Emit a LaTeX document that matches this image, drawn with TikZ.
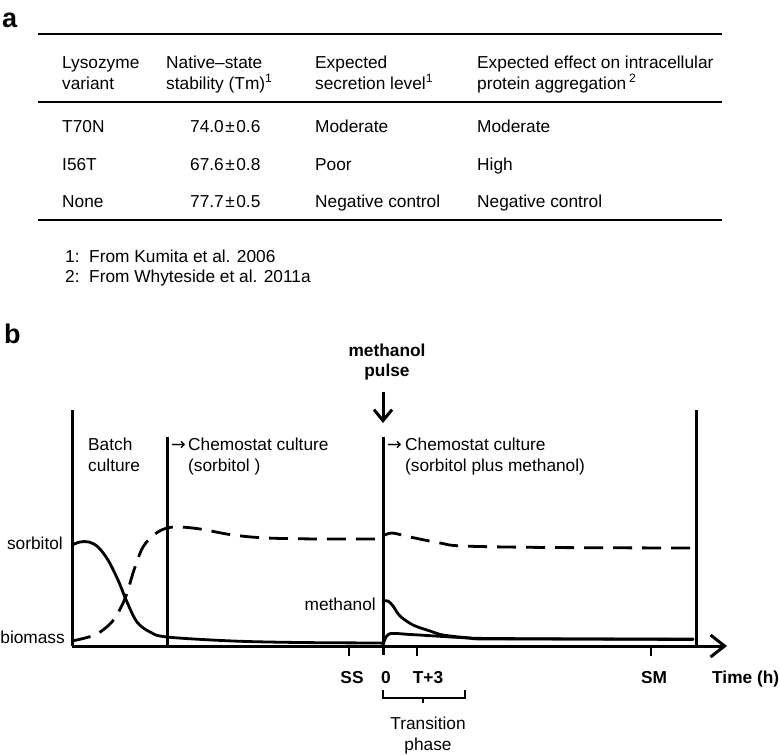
\documentclass[tikz,border=0pt]{standalone}
\usepackage{fontspec}
\setmainfont{Liberation Sans}
\newfontfamily\arrowfont{DejaVu Sans}
\usetikzlibrary{arrows.meta}

\tikzset{
  txt/.style={font=\fontsize{17.3}{21}\selectfont, inner sep=0pt},
  cell/.style={txt, anchor=base west, align=left},
  boldtxt/.style={txt, font=\fontsize{17.3}{20}\selectfont\bfseries},
  panel/.style={inner sep=0pt, anchor=base west, font=\fontsize{27}{27}\selectfont\bfseries},
  arrowtxt/.style={inner sep=0pt, anchor=base west, font=\fontsize{17.5}{17.5}\arrowfont},
  tablerule/.style={line width=2pt},
  axisline/.style={line width=3pt},
  curve/.style={line width=2.8pt, line join=round, line cap=round},
  dashcurve/.style={curve, line cap=butt, dash pattern=on 19pt off 10pt},
}

\begin{document}
\begin{tikzpicture}[x=1pt, y=-1pt]
  \useasboundingbox (0,0) rectangle (780,755);

  % panel a: the table (multi-line cells sit on the baseline of their last line)
  \node[panel] (pa) at (2,27) {a};
  \draw[tablerule] (38,34) -- (722,34);
  \draw[tablerule] (38,102) -- (722,102);
  \draw[tablerule] (38,220) -- (722,220);

  \node[cell] (h1) at (62,89) {Lysozyme\\variant};
  \node[cell] (h2) at (166,89) {Native–state\\stability (Tm)\textsuperscript{1}};
  \node[cell] (h3) at (315,89) {Expected\\secretion level\textsuperscript{1}};
  \node[cell] (h4) at (477,89) {Expected effect on intracellular\\protein aggregation\,\textsuperscript{2}};

  \foreach \y/\var/\sec/\agg [count=\i] in {132/T70N/Moderate/Moderate,
                                            170/I56T/Poor/High,
                                            207/None/Negative control/Negative control} {
    \node[cell] (var\i) at (62,\y) {\var};
    \node[cell] (sec\i) at (315,\y) {\sec};
    \node[cell] (agg\i) at (477,\y) {\agg};
  }
  \node[cell] (tm1) at (190,132) {74.0\kern1.5pt±\kern1.5pt0.6};
  \node[cell] (tm2) at (190,170) {67.6\kern1.5pt±\kern1.5pt0.8};
  \node[cell] (tm3) at (190,207) {77.7\kern1.5pt±\kern1.5pt0.5};

  \node[cell] (fn1) at (65,262) {1:\ \ From Kumita et al. 2006};
  \node[cell] (fn2) at (65,282) {2:\ \ From Whyteside et al. 2011a};

  % panel b: the culture scheme
  \node[panel] (pb) at (4,343) {b};

  \coordinate (O) at (72,646);
  \coordinate (xend) at (727,646);
  \draw[axisline] (72,410) -- (O);
  \draw[axisline, -{Straight Barb[length=14pt, width=22pt]}] (O) -- (xend);
  \draw[axisline] (167,437) -- (167,646);
  \draw[axisline] (383,437) -- (383,655);
  \draw[axisline] (696,410) -- (696,646);
  \foreach \x in {349,417,651}
    \draw[line width=2.5pt] (\x,646) -- (\x,656);

  \node[boldtxt, align=center, anchor=base] (pulse) at (387,376) {methanol\\pulse};
  \coordinate (pulsetip) at (383,423);
  \draw[axisline, -{Straight Barb[length=11pt, width=18pt]}] (383,392) -- (pulsetip);

  \node[cell] (batch) at (88,471) {Batch\\culture};
  \node[arrowtxt] (arrA) at (171,450) {→};
  \node[cell] (chemA) at (188,471) {Chemostat culture\\(sorbitol )};
  \node[arrowtxt] (arrB) at (387,450) {→};
  \node[cell] (chemB) at (405,471) {Chemostat culture\\(sorbitol plus methanol)};

  \node[txt, anchor=base east] (sorb) at (63,549) {sorbitol};
  \node[txt, anchor=base east] (biom) at (65,643) {biomass};
  \node[txt, anchor=base east] (meth) at (376,610) {methanol};

  % sorbitol
  \draw[curve] plot[smooth, tension=0.55] coordinates {(72,545) (80,542) (89,542) (98,547)
    (108,560) (118,580) (127,602) (137,622) (150,632) (167,637) (233,641) (300,642.5) (383,643)};
  % biomass
  \draw[dashcurve] plot[smooth, tension=0.55] coordinates {(72,641) (85,638) (97,634) (110,624)
    (118,613) (126,596) (134,570) (143,547) (155,534) (167,528) (180,527) (200,529) (233,535)
    (267,538) (320,539) (383,539)};
  \draw[dashcurve] plot[smooth, tension=0.55] coordinates {(383,536) (392,533) (410,537)
    (440,543) (463,546) (550,547.5) (693,548)};
  % methanol and biomass after the pulse
  \draw[curve] plot[smooth, tension=0.5] coordinates {(383,601) (388,601) (393,606) (400,616)
    (413,625) (430,631) (443,635) (470,638) (493,639) (693,639)};
  \draw[curve] plot[smooth, tension=0.5] coordinates {(383,645) (389,634) (410,634.5)
    (427,635.5) (460,637.5) (493,638.5) (693,639.5)};

  % time axis labels
  \node[boldtxt, anchor=base] (ss) at (352,683) {SS};
  \node[boldtxt, anchor=base] (t0) at (386,683) {0};
  \node[boldtxt, anchor=base] (t3) at (428,683) {T+3};
  \node[boldtxt, anchor=base] (sm) at (654,683) {SM};
  \node[boldtxt, anchor=base west] (time) at (712,683) {Time (h)};

  \draw[line width=2pt] (383,690) -- (383,698) -- (465,698) -- (465,690);
  \coordinate (bracemid) at (423,703);
  \draw[line width=2pt] (423,698) -- (bracemid);
  \node[txt, align=center, anchor=base] (trans) at (428,750) {Transition\\phase};
\end{tikzpicture}
\end{document}
